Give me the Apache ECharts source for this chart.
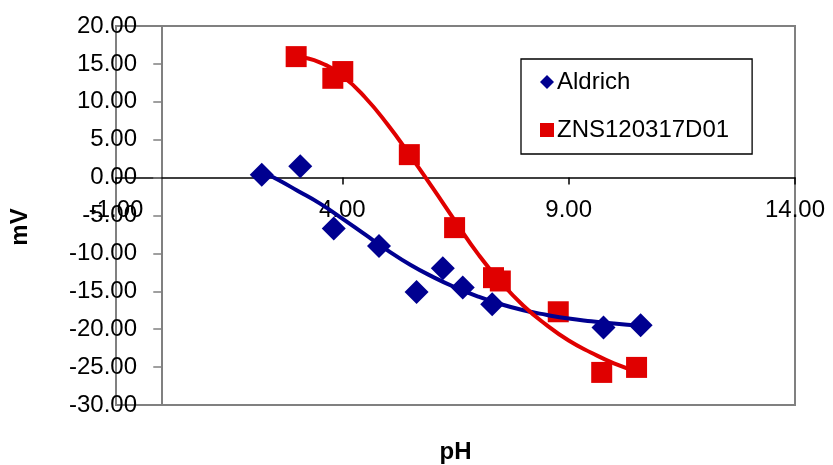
<!DOCTYPE html>
<html>
<head>
<meta charset="utf-8">
<script src="https://cdn.jsdelivr.net/npm/echarts@6/dist/echarts.min.js"></script>
<style>
  html, body { margin: 0; padding: 0; background: #fff; }
  #chart { width: 833px; height: 465px; }
</style>
</head>
<body>
<div id="chart"></div>
<script>
// Measured electrode response (mV) against pH for two samples
const seriesNames = ['Aldrich', 'ZNS120317D01'];

const phAldrich = [2.22, 3.07, 3.81, 4.81, 5.64, 6.22, 6.66, 7.31, 9.77, 10.59];
const mvAldrich = [0.39, 1.49, -6.7, -9.04, -15.09, -11.97, -14.5, -16.71, -19.78, -19.47];

const phZns = [2.98, 3.79, 4.01, 5.48, 6.48, 7.34, 7.49, 8.77, 9.73, 10.50];
const mvZns = [15.96, 13.1, 13.99, 3.03, -6.6, -13.2, -13.64, -17.7, -25.7, -25.04];

// Fitted trend curves (sampled along each fit)
const trendPhAldrich = [2.22, 2.6, 3.0, 3.5, 4.0, 4.5, 5.0, 5.5, 6.0, 6.5, 7.0, 7.5, 8.0, 8.5, 9.0, 9.5, 10.0, 10.59];
const trendMvAldrich = [0.8, -0.35, -1.7, -3.4, -5.4, -7.5, -9.6, -11.5, -13.1, -14.5, -15.7, -16.7, -17.5, -18.1, -18.6, -18.95, -19.25, -19.55];

const trendPhZns = [2.98, 3.5, 4.0, 4.5, 5.0, 5.5, 6.0, 6.5, 7.0, 7.5, 8.0, 8.5, 9.0, 9.5, 10.0, 10.5];
const trendMvZns = [16.0, 15.2, 13.4, 10.6, 7.0, 2.9, -1.4, -5.8, -10.1, -13.8, -16.9, -19.4, -21.5, -23.1, -24.5, -25.55];

// Axis ranges and tick spacing
const xMin = -1, xMax = 14, xStep = 5;
const yMin = -30, yMax = 20, yStep = 5;

const pairs = (xs, ys) => xs.map((x, i) => [x, ys[i]]);

const FONT = '"Liberation Sans", Arial, sans-serif';
const navy = '#000090';
const red = '#e00000';

const chart = echarts.init(document.getElementById('chart'), null, { renderer: 'canvas' });

chart.setOption({
  animation: false,
  backgroundColor: '#fff',
  grid: {
    left: 116, right: 38, top: 26, bottom: 60,
    containLabel: false,
    outerBoundsMode: 'none',
    show: true,
    borderColor: '#808080',
    borderWidth: 2,
    backgroundColor: 'transparent'
  },
  legend: {
    data: [
      { name: seriesNames[0], icon: 'diamond', itemStyle: { color: navy } },
      { name: seriesNames[1], icon: 'rect', itemStyle: { color: red } }
    ],
    orient: 'vertical',
    left: 521, top: 59,
    padding: [11, 23, 12, 19],
    itemGap: 24,
    itemWidth: 14,
    itemHeight: 14,
    borderColor: '#000',
    borderWidth: 1.3,
    backgroundColor: '#fff',
    textStyle: { fontFamily: FONT, fontSize: 24, color: '#000', padding: [0, 0, 0, -2] }
  },
  xAxis: {
    type: 'value',
    min: xMin, max: xMax, interval: xStep,
    name: 'pH',
    nameLocation: 'middle',
    nameGap: 35,
    nameTextStyle: { fontFamily: FONT, fontSize: 24, fontWeight: 'bold', color: '#000' },
    axisLine: { onZero: true, lineStyle: { color: '#000', width: 1.5 } },
    axisTick: { show: true, length: 7, lineStyle: { color: '#000', width: 1.5 } },
    axisLabel: {
      fontFamily: FONT, fontSize: 24, color: '#000', margin: -207,
      formatter: v => v.toFixed(2)
    },
    splitLine: { show: false }
  },
  yAxis: {
    type: 'value',
    min: yMin, max: yMax, interval: yStep,
    axisLine: { onZero: true, lineStyle: { color: '#808080', width: 2 } },
    axisTick: { show: true, length: 8, lineStyle: { color: '#808080', width: 1.5 } },
    axisLabel: {
      fontFamily: FONT, fontSize: 24, color: '#000', margin: -21,
      formatter: v => v.toFixed(2)
    },
    splitLine: { show: false }
  },
  graphic: [
    {
      type: 'text',
      x: 20, y: 227,
      rotation: Math.PI / 2,
      style: {
        text: 'mV',
        font: 'bold 24px ' + FONT,
        fill: '#000',
        textAlign: 'center',
        textVerticalAlign: 'middle'
      }
    }
  ],
  series: [
    {
      name: seriesNames[0],
      type: 'scatter',
      symbol: 'diamond',
      symbolSize: 24,
      itemStyle: { color: navy, opacity: 1 },
      data: pairs(phAldrich, mvAldrich),
      z: 2
    },
    {
      name: seriesNames[1],
      type: 'scatter',
      symbol: 'rect',
      symbolSize: 21,
      itemStyle: { color: red, opacity: 1 },
      data: pairs(phZns, mvZns),
      z: 2
    },
    {
      name: 'Aldrich trend',
      type: 'line',
      smooth: 0.5,
      showSymbol: false,
      symbol: 'none',
      lineStyle: { color: navy, width: 4 },
      data: pairs(trendPhAldrich, trendMvAldrich),
      z: 3
    },
    {
      name: 'ZNS120317D01 trend',
      type: 'line',
      smooth: 0.5,
      showSymbol: false,
      symbol: 'none',
      lineStyle: { color: red, width: 4 },
      data: pairs(trendPhZns, trendMvZns),
      z: 4
    }
  ]
});
</script>
</body>
</html>
